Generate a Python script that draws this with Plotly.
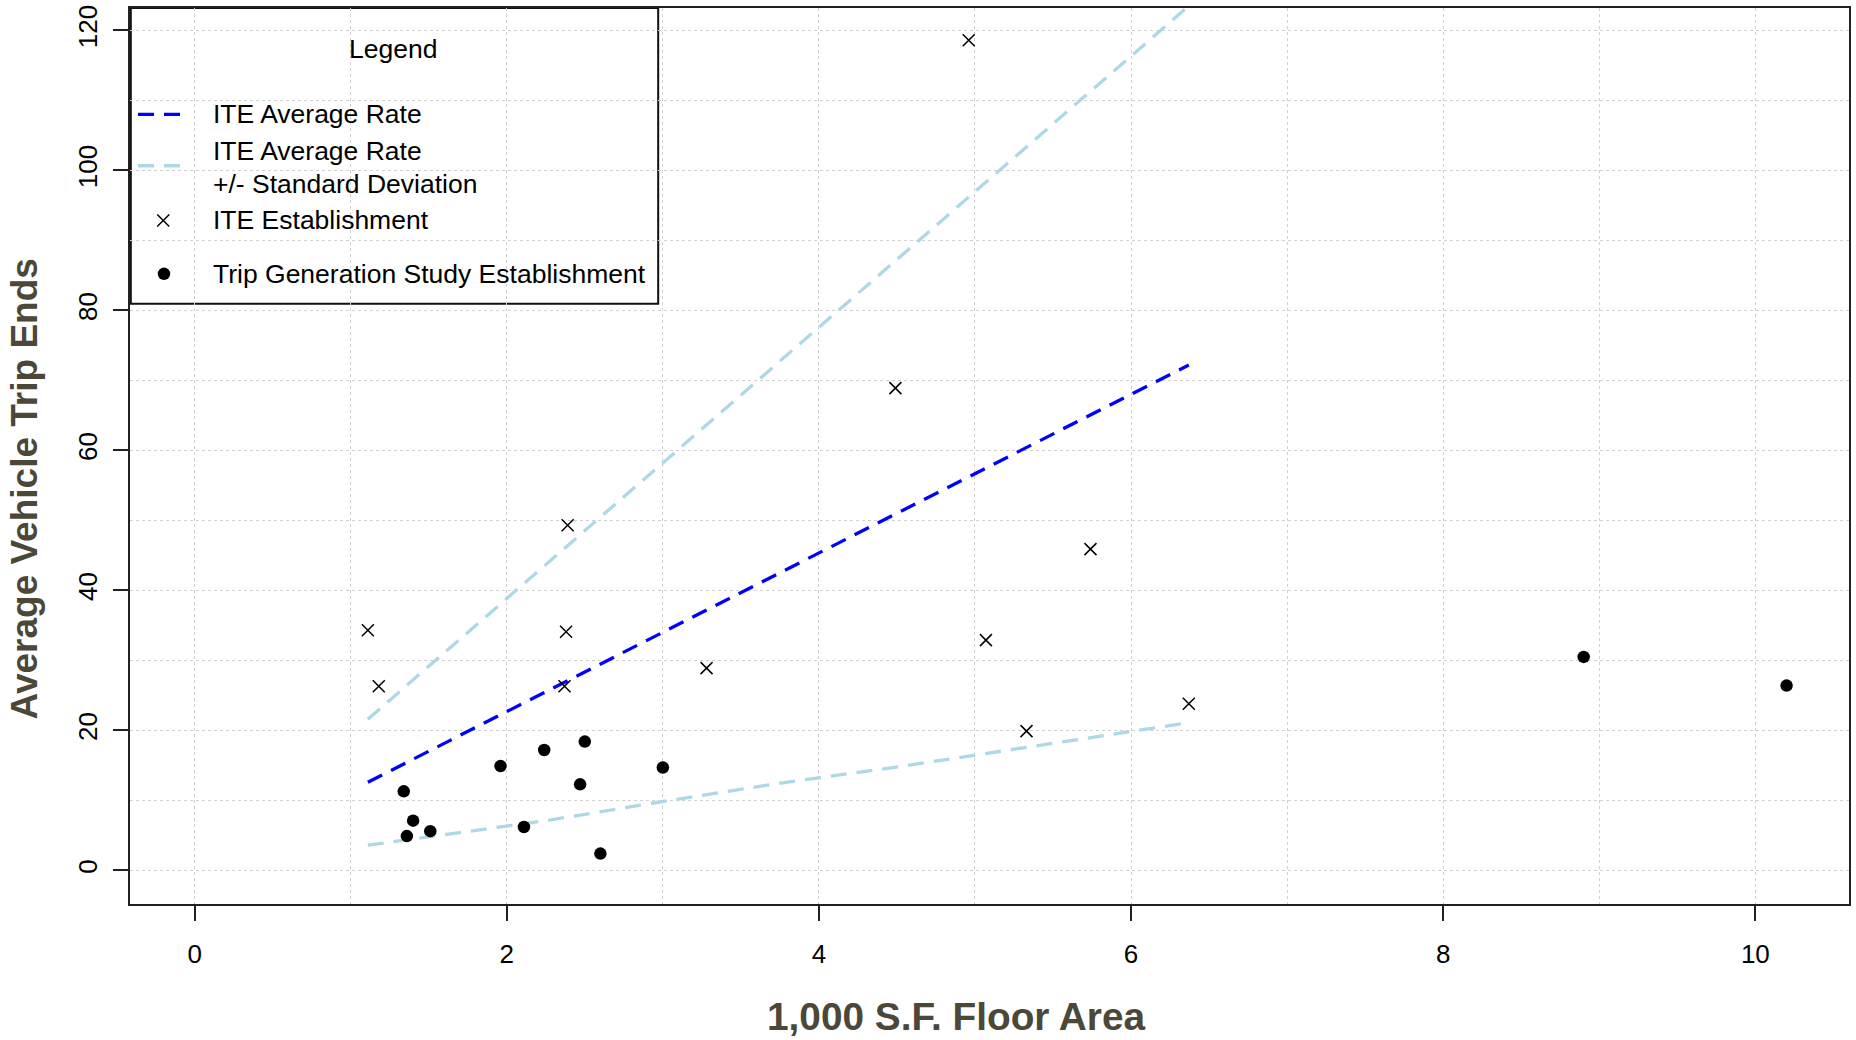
import plotly.graph_objects as go

# ITE establishments (floor area in 1,000 s.f., average vehicle trip ends)
ite_area = [1.11, 1.18, 2.39, 2.38, 2.37, 3.28, 4.49, 4.96, 5.07, 5.33, 5.74, 6.37]
ite_trips = [34.3, 26.3, 49.3, 34.1, 26.3, 28.9, 68.9, 118.6, 32.9, 19.9, 45.9, 23.8]

# Trip generation study establishments
study_area = [1.34, 1.36, 1.40, 1.51, 1.96, 2.11, 2.24, 2.47, 2.50, 2.60, 3.00, 8.90, 10.20]
study_trips = [11.3, 4.9, 7.1, 5.6, 14.9, 6.2, 17.2, 12.3, 18.4, 2.4, 14.7, 30.5, 26.4]

# ITE average rate line and +/- one standard deviation
rate_area = [1.11, 6.37]
rate_avg = [12.6, 72.2]
rate_upper = [21.6, 123.5]
band_area = [1.11, 2.25, 2.96, 3.73, 4.51, 5.41, 6.37]
rate_lower = [3.6, 7.1, 9.7, 12.4, 14.8, 17.9, 21.1]

x_ticks = [0, 2, 4, 6, 8, 10]
y_ticks = [0, 20, 40, 60, 80, 100, 120]

FONT = "Liberation Sans, Arial, sans-serif"
TITLE_COLOR = "#4b4739"
GRID = "#d0d0d0"
BLUE = "#0000ff"
LIGHT_BLUE = "#add8e6"
DASH = "16px,10px"

W, H = 1856, 1040
L, R, T, B = 130, 6, 5, 136

X_MARK = dict(symbol="x-thin", size=12, color="black",
              line=dict(color="black", width=1.5))
DOT_MARK = dict(symbol="circle", size=12.5, color="black", line=dict(width=0))

fig = go.Figure()

fig.add_trace(go.Scatter(x=rate_area, y=rate_upper, mode="lines",
                         line=dict(color=LIGHT_BLUE, width=3.3, dash=DASH),
                         hoverinfo="skip"))
fig.add_trace(go.Scatter(x=band_area, y=rate_lower, mode="lines",
                         line=dict(color=LIGHT_BLUE, width=3.3, dash=DASH),
                         hoverinfo="skip"))
fig.add_trace(go.Scatter(x=rate_area, y=rate_avg, mode="lines",
                         line=dict(color=BLUE, width=3.3, dash=DASH),
                         hoverinfo="skip"))
fig.add_trace(go.Scatter(x=ite_area, y=ite_trips, mode="markers", marker=X_MARK))
fig.add_trace(go.Scatter(x=study_area, y=study_trips, mode="markers", marker=DOT_MARK))

# Legend samples, placed on an overlay axis pair measured in pixels
fig.add_trace(go.Scatter(x=[138, 182], y=[111.7, 111.7], mode="lines",
                         line=dict(color=BLUE, width=3.3, dash=DASH),
                         xaxis="x2", yaxis="y2", hoverinfo="skip"))
fig.add_trace(go.Scatter(x=[138, 182], y=[163.3, 163.3], mode="lines",
                         line=dict(color=LIGHT_BLUE, width=3.3, dash=DASH),
                         xaxis="x2", yaxis="y2", hoverinfo="skip"))
fig.add_trace(go.Scatter(x=[163.3], y=[218.3], mode="markers", marker=X_MARK,
                         xaxis="x2", yaxis="y2", hoverinfo="skip"))
fig.add_trace(go.Scatter(x=[164], y=[271.7], mode="markers", marker=DOT_MARK,
                         xaxis="x2", yaxis="y2", hoverinfo="skip"))

legend_texts = [
    ("ITE Average Rate", 111),
    ("ITE Average Rate", 148.5),
    ("+/- Standard Deviation", 181.5),
    ("ITE Establishment", 218),
    ("Trip Generation Study Establishment", 271.5),
]
annotations = [dict(text="Legend", x=393.5, y=46.5, xref="x2", yref="y2",
                    xanchor="center", yanchor="middle", showarrow=False,
                    font=dict(family=FONT, size=26.5, color="black"))]
for txt, py in legend_texts:
    annotations.append(dict(text=txt, x=211, y=py, xref="x2", yref="y2",
                            xanchor="left", yanchor="middle", showarrow=False,
                            font=dict(family=FONT, size=26.5, color="black")))

pw, ph = W - L - R, H - T - B
annotations.append(dict(text="<b>1,000 S.F. Floor Area</b>",
                        x=(956 - L) / pw, y=(H - B - 1017) / ph,
                        xref="paper", yref="paper", xanchor="center", yanchor="middle",
                        showarrow=False,
                        font=dict(family=FONT, size=38.8, color=TITLE_COLOR)))
annotations.append(dict(text="<b>Average Vehicle Trip Ends</b>",
                        x=(24 - L) / pw, y=(H - B - 488) / ph, textangle=-90,
                        xref="paper", yref="paper", xanchor="center", yanchor="middle",
                        showarrow=False,
                        font=dict(family=FONT, size=37, color=TITLE_COLOR)))

shapes = [dict(type="rect", xref="paper", yref="paper",
               x0=(130.8 - L) / pw, x1=(658.5 - L) / pw,
               y0=(H - B - 301.7) / ph, y1=1.0,
               fillcolor="white", line=dict(color="#111111", width=2),
               layer="between")]

axis_common = dict(
    showline=True, linecolor="#222222", linewidth=2, mirror=True,
    ticks="outside", ticklen=15, tickwidth=1.5, tickcolor="#222222",
    showgrid=True, gridcolor=GRID, gridwidth=1, griddash="dot",
    zeroline=False,
    tickfont=dict(family=FONT, size=26, color="black"),
)

fig.update_layout(
    width=W, height=H,
    margin=dict(l=L, r=R, t=T, b=B, pad=0),
    paper_bgcolor="white", plot_bgcolor="white",
    showlegend=False,
    font=dict(family=FONT),
    xaxis=dict(range=[-0.414, 10.6], tickmode="array", tickvals=x_ticks,
               ticktext=[str(v) for v in x_ticks], ticklabelstandoff=11,
               minor=dict(dtick=1, tick0=0, showgrid=True, gridcolor=GRID,
                          gridwidth=1, griddash="dot", ticks=""),
               **axis_common),
    yaxis=dict(range=[-4.8, 123.2], tickmode="array", tickvals=y_ticks,
               ticktext=[str(v) for v in y_ticks], tickangle=-90,
               ticklabelstandoff=6,
               minor=dict(dtick=10, tick0=0, showgrid=True, gridcolor=GRID,
                          gridwidth=1, griddash="dot", ticks=""),
               **axis_common),
    xaxis2=dict(overlaying="x", range=[L, W - R], visible=False, fixedrange=True),
    yaxis2=dict(overlaying="y", range=[H - B, T], visible=False, fixedrange=True),
    annotations=annotations,
    shapes=shapes,
)

fig.write_html("out.html")
